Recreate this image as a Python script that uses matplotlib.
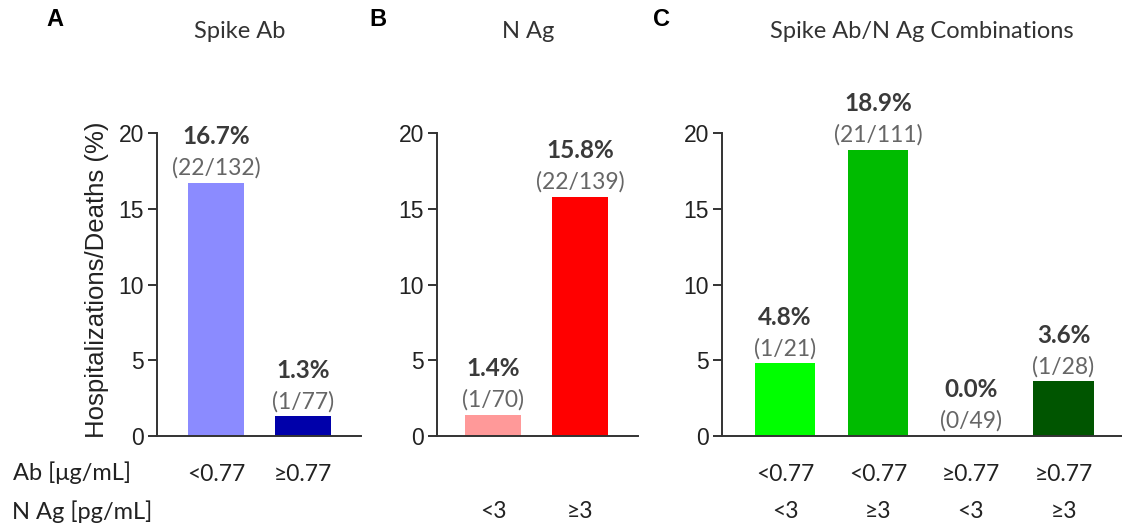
import matplotlib.pyplot as plt

# panel data
ab_labels = ['<0.77\n ', '≥0.77\n ']
ab_values = [16.7, 1.3]
ab_counts = ['(22/132)', '(1/77)']
ab_colors = ['#8b8bff', '#0000aa']

nag_labels = [' \n<3', ' \n≥3']
nag_values = [1.4, 15.8]
nag_counts = ['(1/70)', '(22/139)']
nag_colors = ['#ff9999', '#ff0000']

combo_labels = ['<0.77\n<3', '<0.77\n≥3', '≥0.77\n<3', '≥0.77\n≥3']
combo_values = [4.8, 18.9, 0.0, 3.6]
combo_counts = ['(1/21)', '(21/111)', '(0/49)', '(1/28)']
combo_colors = ['#00ff00', '#00bb00', '#00bb00', '#005500']

W, H = 1122, 525
fig = plt.figure(figsize=(W / 100, H / 100), dpi=100)

label_font = 'Lato'
axis_color = '#333333'


def panel(left, right, xlim, labels, values, counts, colors):
    ax = fig.add_axes([left / W, 1 - 436 / H, (right - left) / W, (436 - 133) / H])
    x = range(len(values))
    ax.bar(x, values, width=0.65, color=colors, zorder=2)
    ax.set_xlim(*xlim)
    ax.set_ylim(0, 20)
    ax.set_yticks([0, 5, 10, 15, 20])
    ax.set_xticks(list(x))
    ax.set_xticklabels(labels, fontsize=16.5, fontname=label_font, color='#222222',
                       linespacing=1.95)
    for t in ax.get_yticklabels():
        t.set_fontname('Liberation Sans')
        t.set_fontsize(16.5)
        t.set_color('#222222')
    ax.tick_params(axis='y', direction='out', length=6.5, width=1.4, color=axis_color, pad=3)
    ax.tick_params(axis='x', length=0, pad=20)
    for s in ['top', 'right']:
        ax.spines[s].set_visible(False)
    for s in ['left', 'bottom']:
        ax.spines[s].set_color(axis_color)
        ax.spines[s].set_linewidth(1.4)
    for xi, v, c in zip(x, values, counts):
        ax.annotate(c, (xi, v), xytext=(0, 3), textcoords='offset points',
                    ha='center', va='bottom', fontsize=16.5, fontname=label_font,
                    color='#666666', annotation_clip=False)
        ax.annotate('%.1f%%' % v, (xi, v), xytext=(0, 25), textcoords='offset points',
                    ha='center', va='bottom', fontsize=17.5, fontname=label_font,
                    fontweight='bold', color='#3a3a3a', annotation_clip=False)
    return ax


ax_a = panel(157, 361, (-0.68, 1.67), ab_labels, ab_values, ab_counts, ab_colors)
ax_b = panel(437, 638, (-0.65, 1.67), nag_labels, nag_values, nag_counts, nag_colors)
ax_c = panel(722, 1122, (-0.68, 3.63), combo_labels, combo_values, combo_counts, combo_colors)
ax_c.patches[2].set_visible(False)

fig.text(97 / W, 1 - 280 / H, 'Hospitalizations/Deaths (%)', rotation=90,
         ha='center', va='center', fontsize=18.5, fontname='Liberation Sans', color='#222222')

# panel letters and titles
for letter, lx in [('A', 55), ('B', 378), ('C', 661)]:
    fig.text(lx / W, 1 - 20 / H, letter, ha='center', va='center', fontsize=17,
             fontweight='bold', fontname='Liberation Sans', color='black')
for title, tx in [('Spike Ab', 240), ('N Ag', 528), ('Spike Ab/N Ag Combinations', 922)]:
    fig.text(tx / W, 1 - 32 / H, title, ha='center', va='center', fontsize=17,
             fontname=label_font, color='#333333')

fig.text(13 / W, 1 - 473 / H, 'Ab [μg/mL]', ha='left', va='center', fontsize=17,
         fontname=label_font, color='#222222')
fig.text(12 / W, 1 - 512 / H, 'N Ag [pg/mL]', ha='left', va='center', fontsize=17,
         fontname=label_font, color='#222222')

fig.savefig('out.png', dpi=100)
